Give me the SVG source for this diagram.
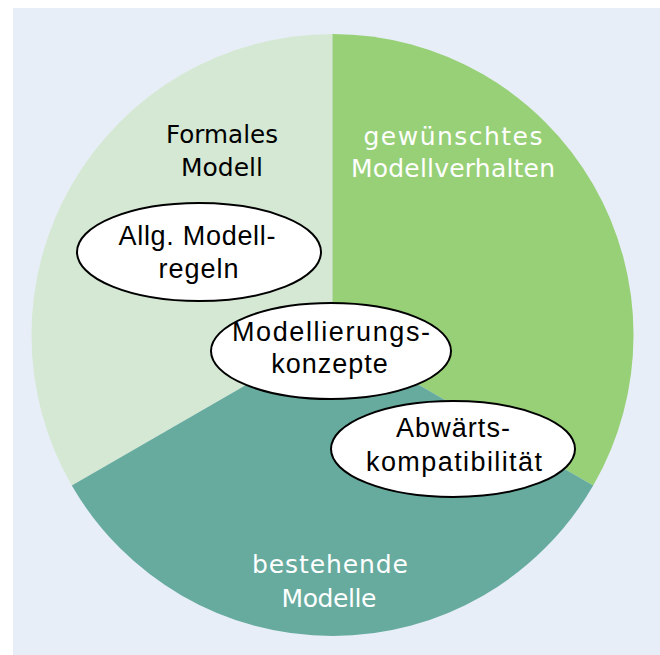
<svg xmlns="http://www.w3.org/2000/svg" width="660" height="655" viewBox="0 0 660 655">
<style>
.sec{font-family:"DejaVu Sans",sans-serif;font-size:25px;text-anchor:middle}
.lbl{font-family:"Liberation Sans",Arial,sans-serif;font-size:27px;text-anchor:middle;fill:#000}
.ell{fill:#fff;stroke:#000;stroke-width:2}
</style>
<rect x="0" y="0" width="660" height="655" fill="#fff"/>
<rect x="13" y="8" width="647" height="647" fill="#e8eef8"/>
<g id="sector-formal">
<path d="M332.5,335 L332.5,34 A301,301 0 0 0 71.8,485.5 Z" fill="#d5e8d4"/>
<text class="sec" x="222" y="143" fill="#000" textLength="112" lengthAdjust="spacingAndGlyphs">Formales</text>
<text class="sec" x="222" y="176" fill="#000" textLength="82" lengthAdjust="spacingAndGlyphs">Modell</text>
</g>
<g id="sector-verhalten">
<path d="M332.5,335 L332.5,34 A301,301 0 0 1 593.2,485.5 Z" fill="#97d077"/>
<text class="sec" x="453" y="145" fill="#fff" textLength="179" lengthAdjust="spacing">gewünschtes</text>
<text class="sec" x="453" y="177" fill="#fff" textLength="204" lengthAdjust="spacing">Modellverhalten</text>
</g>
<g id="sector-bestehend">
<path d="M332.5,335 L593.2,485.5 A301,301 0 0 1 71.8,485.5 Z" fill="#67ab9f"/>
<text class="sec" x="330" y="573" fill="#fff" textLength="156" lengthAdjust="spacing">bestehende</text>
<text class="sec" x="329" y="607" fill="#fff" textLength="95" lengthAdjust="spacing">Modelle</text>
</g>
<g id="connectors"></g>
<g id="node-regeln">
<ellipse class="ell" cx="199" cy="252" rx="122" ry="49"/>
<text class="lbl" x="197" y="245" textLength="157" lengthAdjust="spacing">Allg. Modell-</text>
<text class="lbl" x="199" y="278" letter-spacing="1">regeln</text>
</g>
<g id="node-konzepte">
<ellipse class="ell" cx="331" cy="351" rx="120" ry="48"/>
<text class="lbl" x="331" y="341" textLength="198" lengthAdjust="spacing">Modellierungs-</text>
<text class="lbl" x="330" y="373" letter-spacing="1">konzepte</text>
</g>
<g id="node-abwaerts">
<ellipse class="ell" cx="453" cy="449" rx="122" ry="48"/>
<text class="lbl" x="453" y="437" textLength="114" lengthAdjust="spacing">Abwärts-</text>
<text class="lbl" x="454" y="471" textLength="176" lengthAdjust="spacing">kompatibilität</text>
</g>
</svg>
